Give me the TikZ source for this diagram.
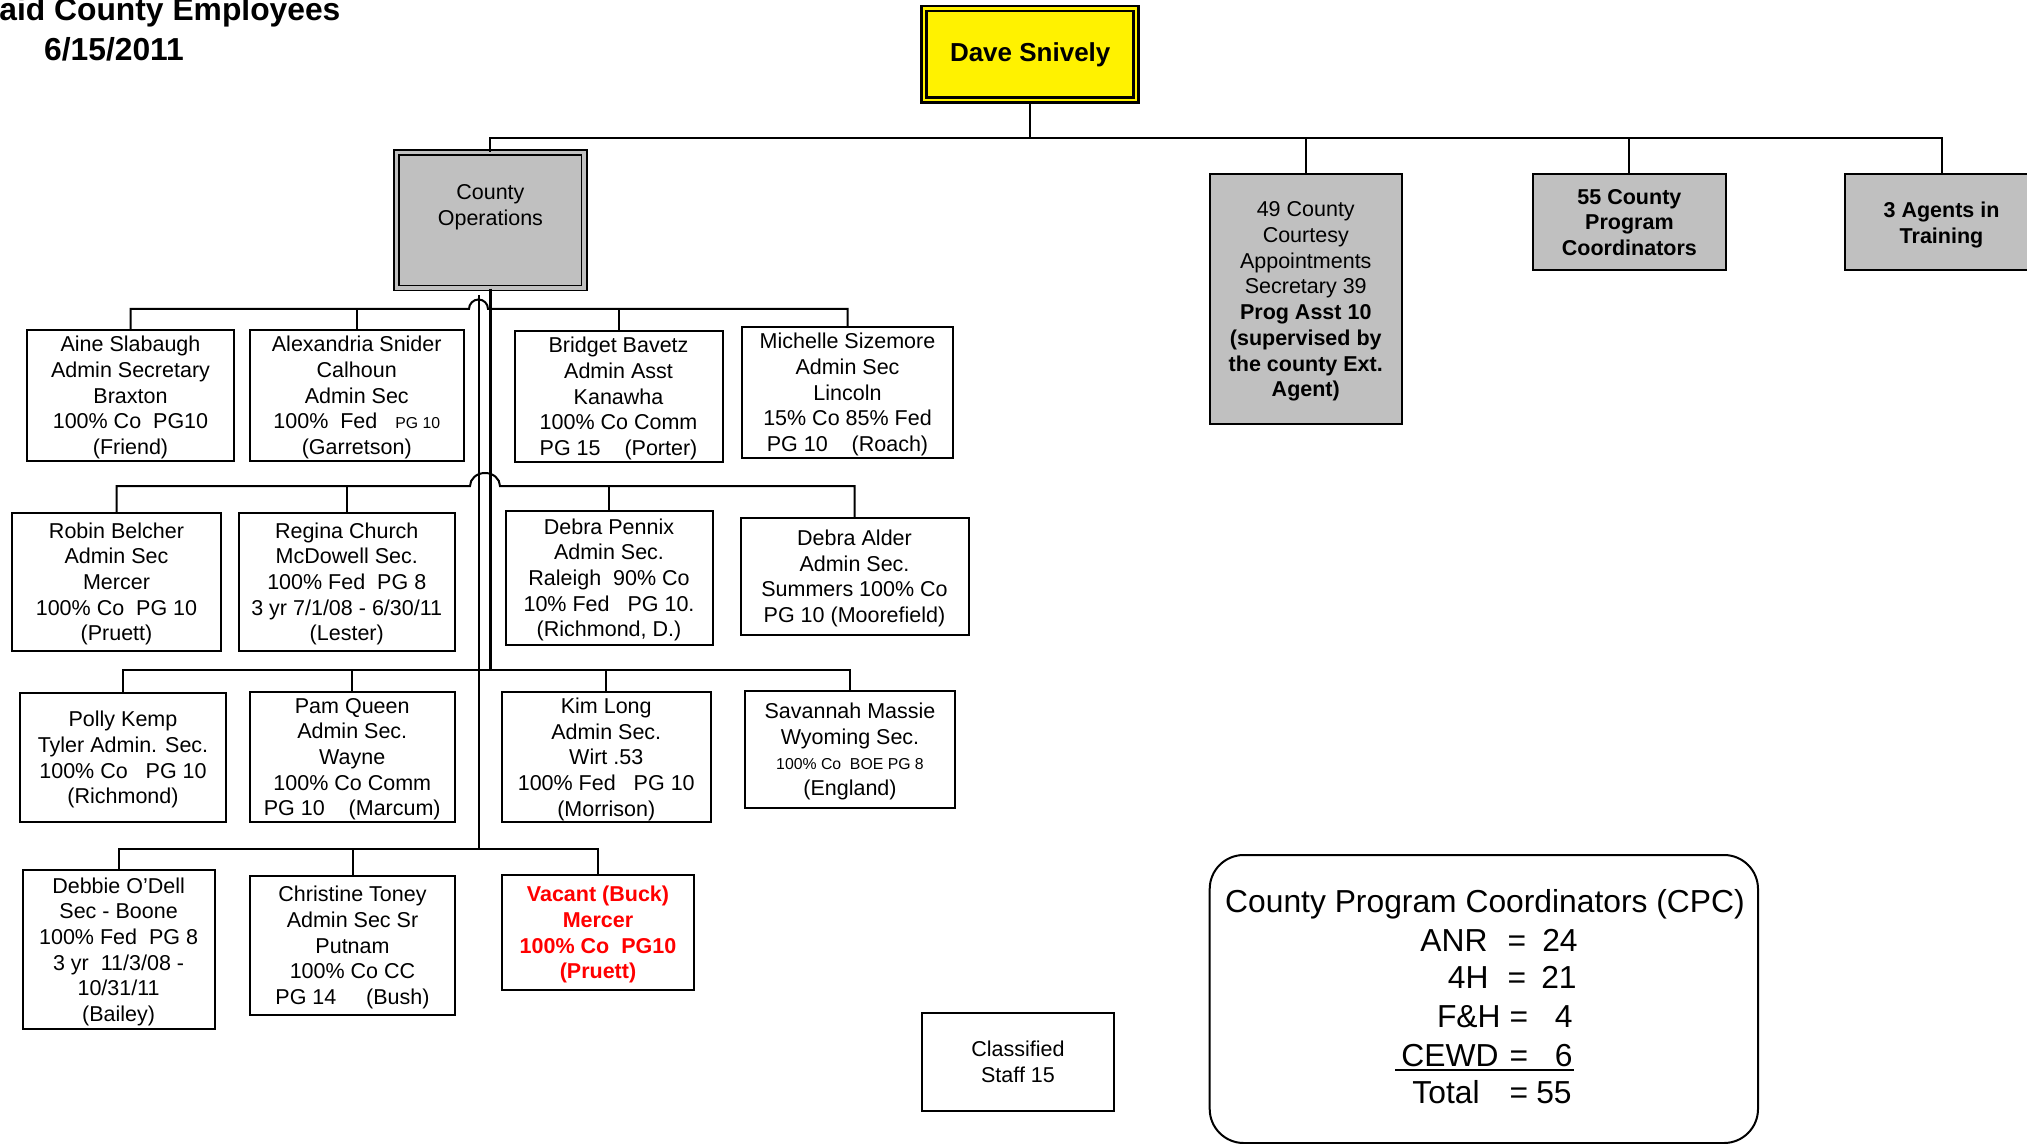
\documentclass[tikz,border=0pt]{standalone}
\usepackage{fontspec}
\setmainfont{Liberation Sans}
\newcommand\fsN{\fontsize{10.75pt}{12.85pt}\selectfont}
\newcommand\fsS{\fontsize{7.9pt}{9.5pt}\selectfont}
\newcommand\fsB{\fontsize{15.9pt}{19pt}\selectfont}
\definecolor{boxgray}{RGB}{192,192,192}
\definecolor{vacred}{RGB}{255,0,0}
\tikzset{
  emp/.style={draw, line width=1pt, inner sep=0pt, align=center, font=\fsN, text depth=0pt},
  grayb/.style={emp, fill=boxgray},
  conn/.style={line width=1pt},
  big/.style={inner sep=0pt, font=\fsB},
}
% [options] name x1 y1 x2 y2 text
\newcommand\cbox[7][]{\node[emp,#1,minimum width={(#5-#3)*0.5pt},minimum height={(#6-#4)*0.5pt}] (#2) at ({(#3+#5)/2},{(#4+#6)/2}) {#7};}
\begin{document}
\begin{tikzpicture}[x=0.5pt,y=-0.5pt]
\useasboundingbox (0,0) rectangle (2027,1144);

% title
\node[anchor=base west, inner sep=0pt, font=\bfseries\fontsize{15.9pt}{18pt}\selectfont] (title) at (-1,21) {aid County Employees};
\node[anchor=base, inner sep=0pt, font=\bfseries\fontsize{15.9pt}{18pt}\selectfont] (date) at (114,61) {6/15/2011};

% top boxes
\node[draw, line width=1.3pt, double=yellow, double distance=1.2pt, fill=yellow,
      minimum width=106pt, minimum height=45.85pt, inner sep=0pt,
      font=\bfseries\fontsize{13pt}{15pt}\selectfont] (dave) at (1030.2,54.35) {Dave Snively};
\node[draw, line width=0.7pt, double=boxgray, double distance=1.85pt, fill=boxgray,
      minimum width=93.9pt, minimum height=67.7pt, inner sep=0pt, align=center,
      font=\fsN, text depth=15pt] (coops) at (490.4,220.2) {County\\Operations};

\cbox[fill=boxgray]{courtesy}{1209.5}{174.3}{1402}{424.3}{49 County\\Courtesy\\Appointments\\Secretary 39\\\textbf{Prog Asst 10}\\\textbf{(supervised by}\\\textbf{the county Ext.}\\\textbf{Agent)}}
\cbox[fill=boxgray,font=\fsN\bfseries]{coords}{1533.3}{174.3}{1725.5}{270.5}{55 County\\Program\\Coordinators}
\cbox[fill=boxgray,font=\fsN\bfseries]{agents}{1845}{174.3}{2038}{270.5}{3 Agents in\\Training}

% row 1
\cbox{aine}{27}{330}{234}{461}{Aine Slabaugh\\Admin Secretary\\Braxton\\100\% Co\ \ PG10\\(Friend)}
\cbox{alex}{249.5}{330}{464}{461}{Alexandria Snider\\Calhoun\\Admin Sec\\100\%\ \ Fed\ \ \ {\fsS PG 10}\\(Garretson)}
\cbox{bridget}{514.5}{331}{722.6}{461.5}{Bridget Bavetz\\Admin Asst\\Kanawha\\100\% Co Comm\\PG 15\ \ \ \ (Porter)}
\cbox{michelle}{742}{327}{953}{458}{Michelle Sizemore\\Admin Sec\\Lincoln\\15\% Co 85\% Fed\\PG 10\ \ \ \ (Roach)}

% row 2
\cbox{robin}{12}{513}{221}{650.5}{Robin Belcher\\Admin Sec\\Mercer\\100\% Co\ \ PG 10\\(Pruett)}
\cbox{regina}{238.5}{513}{455}{650.5}{Regina Church\\McDowell Sec.\\100\% Fed\ \ PG 8\\3 yr 7/1/08 - 6/30/11\\(Lester)}
\cbox{pennix}{505.5}{510.5}{712.5}{645}{Debra Pennix\\Admin Sec.\\Raleigh\ \ 90\% Co\\10\% Fed\ \ \ PG 10.\\(Richmond, D.)}
\cbox{alder}{740.5}{518}{968.5}{634.5}{Debra Alder\\Admin Sec.\\Summers 100\% Co\\PG 10 (Moorefield)}

% row 3
\cbox{polly}{20}{692.5}{226}{822.3}{Polly Kemp\\Tyler Admin. Sec.\\100\% Co\ \ \ PG 10\\(Richmond)}
\cbox{pam}{250}{691.6}{454.5}{822.3}{Pam Queen\\Admin Sec.\\Wayne\\100\% Co Comm\\PG 10\ \ \ \ (Marcum)}
\cbox{kim}{502}{691.6}{710.5}{822.3}{Kim Long\\Admin Sec.\\Wirt .53\\100\% Fed\ \ \ PG 10\\(Morrison)}
\cbox{savannah}{745}{690.5}{955}{808}{Savannah Massie\\Wyoming Sec.\\{\fsS 100\% Co\ \ BOE PG 8}\\(England)}

% row 4
\cbox{debbie}{22.5}{870}{214.7}{1029}{Debbie O’Dell\\Sec - Boone\\100\% Fed\ \ PG 8\\3 yr\ \ 11/3/08 -\\10/31/11\\(Bailey)}
\cbox{christine}{250}{876}{455}{1014.5}{Christine Toney\\Admin Sec Sr\\Putnam\\100\% Co CC\\PG 14\ \ \ \ \ (Bush)}
\cbox[text=vacred,font=\fsN\bfseries]{vacant}{502}{874.5}{694}{990.3}{Vacant (Buck)\\Mercer\\100\% Co\ \ PG10\\(Pruett)}

% classified
\cbox{classified}{922}{1013.3}{1114}{1110.5}{Classified\\Staff 15}

% CPC box
\node[draw, line width=1pt, rounded corners=17pt, inner sep=0pt,
      minimum width={(1758-1209.7)*0.5pt}, minimum height={(1143-855)*0.5pt}] (cpc) at ({(1209.7+1758)/2},{(855+1143)/2}) {};
\node[big, anchor=base] (cpct) at (1485,912.7) {County Program Coordinators (CPC)};
\node[big, anchor=base east] (anr) at (1488,951) {ANR};
\node[big, anchor=base] (anre) at (1517,951) {=};
\node[big, anchor=base east] (anrn) at (1578,951) {24};
\node[big, anchor=base east] (fh4) at (1489,988.5) {4H};
\node[big, anchor=base] (fh4e) at (1517,988.5) {=};
\node[big, anchor=base east] (fh4n) at (1577,988.5) {21};
\node[big, anchor=base east] (fnh) at (1501,1027.7) {F\&H};
\node[big, anchor=base] (fnhe) at (1519,1027.7) {=};
\node[big, anchor=base east] (fnhn) at (1573,1027.7) {4};
\node[big, anchor=base east] (cewd) at (1499,1066) {CEWD};
\node[big, anchor=base] (cewde) at (1519,1066) {=};
\node[big, anchor=base east] (cewdn) at (1573,1066) {6};
\node[big, anchor=base east] (tot) at (1480,1103.3) {Total};
\node[big, anchor=base] (tote) at (1519,1103.3) {=};
\node[big, anchor=base east] (totn) at (1572,1103.3) {55};
\coordinate (ul0) at (1395,1069.8);
\coordinate (ul1) at (1574,1069.8);
\draw[line width=1pt] (ul0) -- (ul1);

% connectors: top bus
\coordinate (tb) at (0,138);
\draw[conn] (dave.south) -- (dave.south |- tb);
\draw[conn] (coops.north) -- (coops.north |- tb) -- (agents.north |- tb) -- (agents.north);
\draw[conn] (courtesy.north) -- (courtesy.north |- tb);
\draw[conn] (coords.north) -- (coords.north |- tb);

% vertical trunks
\coordinate (vL0) at (479,295);
\coordinate (vL1) at (479,848.5);
\coordinate (b1) at (0,309);
\coordinate (b2) at (0,486);
\coordinate (b3) at (0,669.5);
\coordinate (b4) at (0,848.5);
\draw[line width=1.2pt] (vL0) -- (vL1);
\draw[line width=1.1pt] (coops.south) -- (coops.south |- b3);

% row 1 bus
\coordinate (h1) at (469,309);
\draw[conn] (aine.north) -- (aine.north |- b1) -- (h1) arc[start angle=180,end angle=0,radius=4.75pt] -- (michelle.north |- b1) -- (michelle.north);
\draw[conn] (alex.north) -- (alex.north |- b1);
\draw[conn] (bridget.north) -- (bridget.north |- b1);

% row 2 bus
\coordinate (h2) at (470,486);
\draw[conn] (robin.north) -- (robin.north |- b2) -- (h2) arc[start angle=180,end angle=0,x radius=7.5pt,y radius=6.5pt] -- (alder.north |- b2) -- (alder.north);
\draw[conn] (regina.north) -- (regina.north |- b2);
\draw[conn] (pennix.north) -- (pennix.north |- b2);

% row 3 bus
\draw[conn] (polly.north) -- (polly.north |- b3) -- (savannah.north |- b3) -- (savannah.north);
\draw[conn] (pam.north) -- (pam.north |- b3);
\draw[conn] (kim.north) -- (kim.north |- b3);

% row 4 bus
\draw[conn] (debbie.north) -- (debbie.north |- b4) -- (vacant.north |- b4) -- (vacant.north);
\draw[conn] (christine.north) -- (christine.north |- b4);
\end{tikzpicture}
\end{document}
